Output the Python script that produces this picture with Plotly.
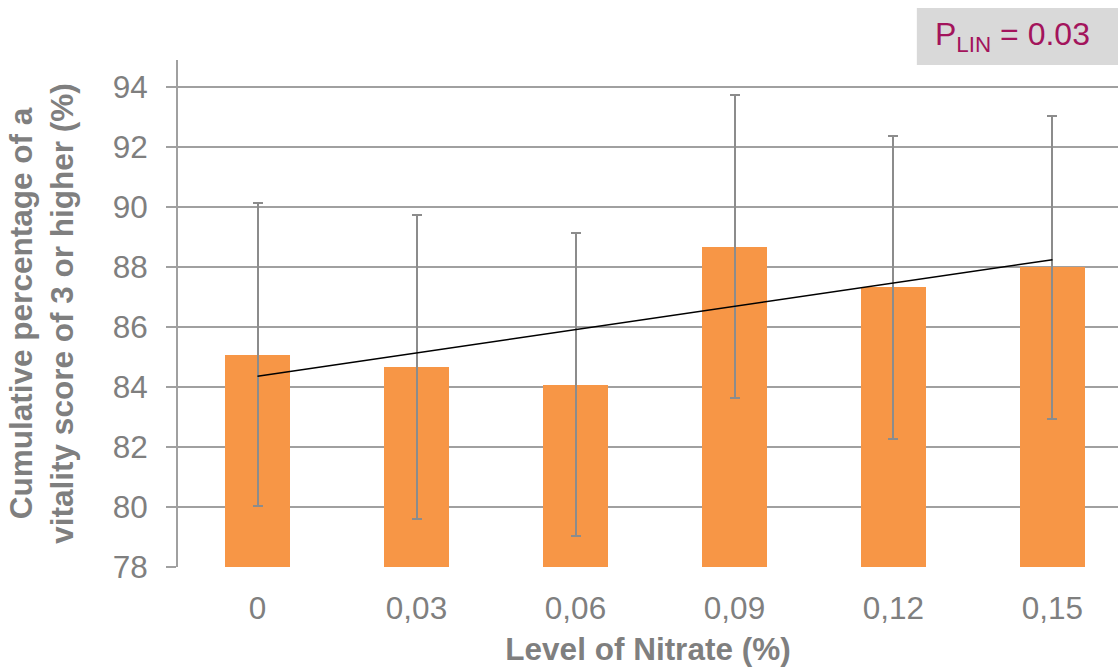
import numpy as np
import plotly.graph_objects as go

# Nitrate levels (%) and cumulative percentage of vitality score >= 3
nitrate_levels = ["0", "0,03", "0,06", "0,09", "0,12", "0,15"]
vitality_pct = [85.07, 84.67, 84.07, 88.67, 87.32, 88.0]
vitality_err = [5.05, 5.08, 5.05, 5.05, 5.05, 5.05]
y_ticks = [78, 80, 82, 84, 86, 88, 90, 92, 94]

GREY = "#7f7f7f"
LINE_GREY = "#a0a0a0"
FONT = "Liberation Sans, Arial, sans-serif"
FS = 31.5

idx = np.arange(len(nitrate_levels))
slope, intercept = np.polyfit(idx, vitality_pct, 1)
trend = intercept + slope * idx

fig = go.Figure()
fig.add_trace(go.Bar(
    x=idx, y=vitality_pct, width=0.41,
    marker=dict(color="#f79646", line=dict(width=0)),
    error_y=dict(type="data", array=vitality_err, visible=True,
                 color="#8c8c8c", thickness=2, width=5),
))
fig.add_trace(go.Scatter(
    x=[idx[0], idx[-1]], y=[trend[0], trend[-1]], mode="lines",
    line=dict(color="black", width=1.5),
))

fig.update_layout(
    width=1118, height=669,
    margin=dict(l=178, r=0, t=60, b=102),
    plot_bgcolor="white", paper_bgcolor="white",
    showlegend=False,
    font=dict(family=FONT, color=GREY, size=FS),
    xaxis=dict(
        range=[-0.5, 5.412], tickmode="array", tickvals=idx, ticktext=nitrate_levels,
        showgrid=False, showline=False, zeroline=False,
        ticks="outside", ticklen=13, tickcolor="rgba(0,0,0,0)",
        tickfont=dict(size=FS, color=GREY),
        title=dict(text="<b>Level of Nitrate (%)</b>", font=dict(size=FS, color=GREY), standoff=13),
    ),
    yaxis=dict(
        range=[78, 94.9], tickmode="array", tickvals=y_ticks,
        showgrid=True, gridcolor=LINE_GREY, gridwidth=2,
        showline=True, linecolor=LINE_GREY, linewidth=2,
        zeroline=False,
        ticks="outside", ticklen=10, tickcolor=LINE_GREY, tickwidth=2,
        ticklabelstandoff=12,
        tickfont=dict(size=FS, color=GREY),
        title=dict(text="<b>Cumulative percentage of a<br>vitality score of 3 or higher (%)</b>",
                   font=dict(size=FS, color=GREY), standoff=30),
    ),
    bargap=0,
)

# P-value box in the top-right corner
fig.add_shape(
    type="rect", xref="paper", yref="paper",
    x0=0.786, x1=1.0, y0=0.990, y1=1.1026,
    fillcolor="#d9d9d9", line=dict(width=0), layer="above",
)
fig.add_annotation(
    xref="paper", yref="paper", x=0.888, y=1.046, xanchor="center", yanchor="middle",
    text="P<sub>LIN</sub> = 0.03", showarrow=False,
    font=dict(family=FONT, size=32, color="#a3145c"),
)

fig.write_html("out.html")
